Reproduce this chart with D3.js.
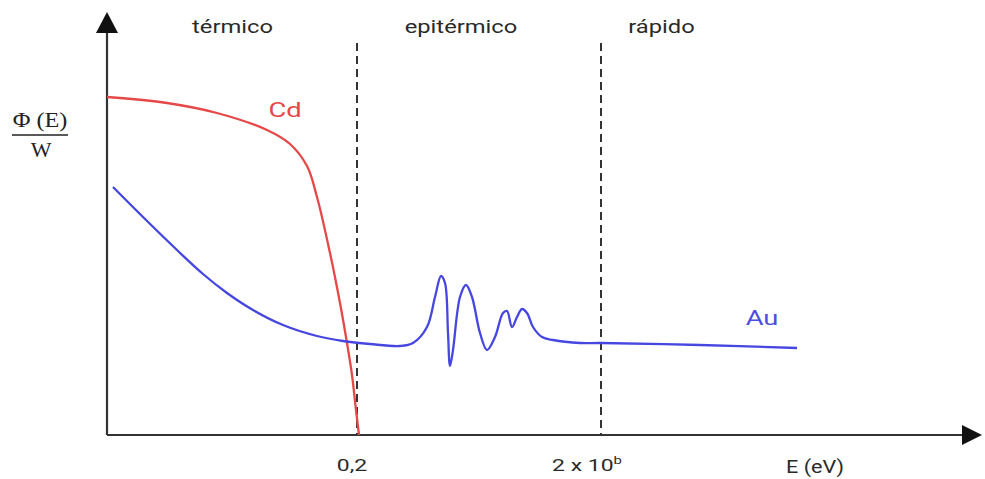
<!DOCTYPE html>
<html>
<head>
<meta charset="utf-8">
<script src="https://cdn.jsdelivr.net/npm/d3@7"></script>
<style>
  body { margin: 0; background: #fff; }
</style>
</head>
<body>
<script>
// schematic values, arbitrary units
var cdX = [0, 6.0, 11.0, 16.0, 18.3, 20.0, 21.0, 22.3, 23.3, 24.0, 24.5, 24.9, 25.2];
var cdY = [33.8, 33.2, 32.2, 30.5, 29.1, 26.9, 23.8, 18.2, 13.2, 9.2, 6.0, 2.5, 0];

var auX = [0.6, 3.6, 7.0, 9.6, 12.0, 14.6, 17.6, 21.0, 23.6, 26.3, 29.3, 30.6, 32.0, 32.8, 33.4, 33.8, 34.1, 34.3, 34.6,
           35.3, 35.9, 36.5, 37.3, 38.0, 38.8, 39.6, 40.0, 40.5, 41.0, 41.5, 42.0, 42.6, 43.5, 44.6, 47.3, 49.4, 59.3, 69.0];
var auY = [24.8, 21.8, 18.5, 16.1, 14.2, 12.5, 11.0, 9.9, 9.4, 9.1, 8.9, 9.2, 10.8, 13.8, 15.9, 15.2, 10.2, 6.9, 8.5,
           13.8, 15.0, 13.8, 10.2, 8.5, 9.8, 12.2, 12.4, 10.8, 11.8, 12.6, 12.2, 10.8, 9.8, 9.5, 9.2, 9.2, 9.0, 8.7];

var boundaries = [25.0, 49.4];
var regionNames = ["térmico", "epitérmico", "rápido"];
var regionPos = [12.55, 35.4, 55.45];
var tickLabels = ["0,2", "2 x 10"];
var tickPos = [24.5, 48.0];

var width = 985, height = 479;
var x = d3.scaleLinear().domain([0, 87]).range([107, 977]);
var y = d3.scaleLinear().domain([0, 42.3]).range([435, 12]);

var svg = d3.select("body").append("svg")
    .attr("width", width)
    .attr("height", height);

// text helper: the source picture is stretched sideways
function label(px, py, str, size, color, sx) {
  return svg.append("text")
      .attr("transform", "translate(" + px + "," + py + ") scale(" + sx + ",1)")
      .attr("text-anchor", "middle")
      .style("font-family", "Roboto, sans-serif")
      .attr("font-size", size)
      .attr("fill", color)
      .text(str);
}

// dashed region boundaries
svg.selectAll(".bound")
    .data(boundaries)
  .enter().append("line")
    .attr("x1", function(d) { return x(d); })
    .attr("x2", function(d) { return x(d); })
    .attr("y1", y(39.2))
    .attr("y2", y(0))
    .attr("stroke", "#333")
    .attr("stroke-width", 2)
    .attr("stroke-dasharray", "8,5");

// axes
svg.append("line")
    .attr("x1", x(0)).attr("x2", x(85.5))
    .attr("y1", y(0)).attr("y2", y(0))
    .attr("stroke", "#333").attr("stroke-width", 2.2);
svg.append("line")
    .attr("x1", x(0)).attr("x2", x(0))
    .attr("y1", y(0)).attr("y2", y(40.5))
    .attr("stroke", "#333").attr("stroke-width", 2.2);

// arrow heads
svg.append("path")
    .attr("d", "M" + x(0) + "," + y(42.3) + "L" + (x(0) - 11) + "," + (y(42.3) + 21) + "L" + (x(0) + 11) + "," + (y(42.3) + 21) + "Z")
    .attr("fill", "#111");
svg.append("path")
    .attr("d", "M" + (x(87) + 5) + "," + y(0) + "L" + (x(87) - 15) + "," + (y(0) - 10) + "L" + (x(87) - 15) + "," + (y(0) + 10) + "Z")
    .attr("fill", "#111");

var line = d3.line()
    .x(function(d) { return x(d[0]); })
    .y(function(d) { return y(d[1]); })
    .curve(d3.curveCatmullRom.alpha(0.5));

svg.append("path")
    .datum(d3.zip(cdX, cdY))
    .attr("d", line)
    .attr("fill", "none")
    .attr("stroke", "#e64848")
    .attr("stroke-width", 2.3);

svg.append("path")
    .datum(d3.zip(auX, auY))
    .attr("d", line)
    .attr("fill", "none")
    .attr("stroke", "#4646e0")
    .attr("stroke-width", 2.3);

// region labels
regionNames.forEach(function(d, i) {
  label(x(regionPos[i]), 33, d, 19, "#2a2a2a", 1.25);
});

// series labels
label(285, 117, "Cd", 21, "#e64848", 1.3);
label(762, 325, "Au", 21, "#4d4de0", 1.3);

// tick labels
label(x(tickPos[0]), 471, tickLabels[0], 17, "#2a2a2a", 1.35);
var t2 = label(x(tickPos[1]), 471, tickLabels[1], 17, "#2a2a2a", 1.35);
t2.append("tspan").attr("dy", -7).attr("font-size", 11).text("b");

label(815, 473, "E (eV)", 18, "#2a2a2a", 1.2);

// y label as fraction
svg.append("text")
    .attr("transform", "translate(40,127) scale(1.1,1)")
    .attr("text-anchor", "middle")
    .style("font-family", "'Liberation Serif', serif")
    .attr("font-size", 22)
    .attr("fill", "#222")
    .text("\u03A6 (E)");
svg.append("line")
    .attr("x1", 12).attr("x2", 68)
    .attr("y1", 135).attr("y2", 135)
    .attr("stroke", "#222").attr("stroke-width", 1.3);
svg.append("text")
    .attr("transform", "translate(41,157)")
    .attr("text-anchor", "middle")
    .style("font-family", "'Liberation Serif', serif")
    .attr("font-size", 22)
    .attr("fill", "#222")
    .text("W");
</script>
</body>
</html>
